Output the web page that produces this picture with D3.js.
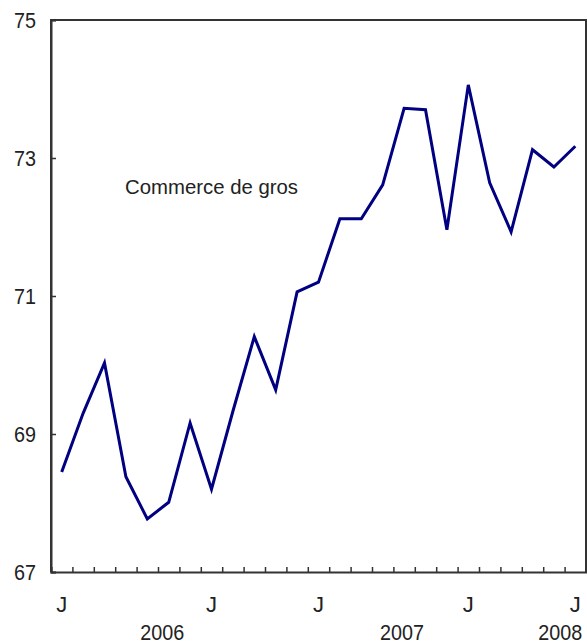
<!DOCTYPE html>
<html>
<head>
<meta charset="utf-8">
<script src="https://cdn.jsdelivr.net/npm/d3@7"></script>
<style>
  body { margin: 0; background: #fff; }
  text { font-family: "Liberation Sans", Arial, sans-serif; fill: #222; }
</style>
</head>
<body>
<svg id="chart" width="587" height="644"></svg>
<script>
// monthly values, Jan 2006 .. Jan 2008
var values = [68.45, 69.30, 70.03, 68.38, 67.77, 68.01, 69.16, 68.20, 69.33, 70.41,
              69.64, 71.06, 71.20, 72.12, 72.12, 72.61, 73.72, 73.70, 71.96, 74.06,
              72.64, 71.93, 73.12, 72.87, 73.17];
var monthLabels = ["J","","","","","","","J","","","","",
                   "J","","","","","","","J","","","","","J"];
var years = ["2006", "2007", "2008"];
var yearAt = [5.2, 16.4, 23.8];   // in month units along the axis
var yTicks = [67, 69, 71, 73, 75];
var seriesName = "Commerce de gros";

var svg = d3.select("#chart");
// plot box (note: "top" is reserved on window, so use own names)
var plotL = 51, plotR = 586, plotT = 20, plotB = 572;

// edges of the month bands
var xEdge = d3.scaleLinear().domain([0, values.length]).range([plotL, plotR]);
var y = d3.scaleLinear().domain([67, 75]).range([plotB, plotT]);

//---------------- frame --------------------
svg.append("path")
  .attr("d", "M" + plotL + "," + plotB + "V" + plotT + "H" + plotR + "V" + plotB)
  .attr("fill", "none").attr("stroke", "#333").attr("stroke-width", 2);

//---------------- y axis --------------------
var gy = svg.append("g").attr("transform", "translate(" + plotL + ",0)")
  .call(d3.axisRight(y).tickValues(yTicks).tickSize(5).tickFormat(""));
gy.select(".domain").attr("stroke", "#333").attr("stroke-width", 2);
gy.selectAll(".tick line").attr("stroke", "#333").attr("stroke-width", 1.5);

svg.selectAll(".ylab").data(yTicks).enter().append("text")
  .attr("class", "ylab")
  .attr("x", 36).attr("y", function(d){ return y(d) + 8; })
  .attr("text-anchor", "end")
  .style("font-size", "22px")
  .attr("textLength", 22).attr("lengthAdjust", "spacingAndGlyphs")
  .text(function(d){ return d; });

//---------------- x axis --------------------
var gx = svg.append("g").attr("transform", "translate(0," + plotB + ")")
  .call(d3.axisTop(xEdge).tickValues(d3.range(0, values.length + 1)).tickSize(5).tickFormat(""));
gx.select(".domain").attr("stroke", "#333").attr("stroke-width", 2);
gx.selectAll(".tick line").attr("stroke", "#333").attr("stroke-width", 1.5);

svg.selectAll(".mlab").data(monthLabels).enter().append("text")
  .attr("class", "mlab")
  .attr("x", function(d, i){ return xEdge(i + 0.5); })
  .attr("y", 612)
  .attr("text-anchor", "middle")
  .style("font-size", "22px")
  .text(function(d){ return d; });

svg.selectAll(".yrlab").data(years).enter().append("text")
  .attr("class", "yrlab")
  .attr("x", function(d, i){ return xEdge(yearAt[i]); })
  .attr("y", 640)
  .attr("text-anchor", "middle")
  .style("font-size", "22px")
  .attr("textLength", 44).attr("lengthAdjust", "spacingAndGlyphs")
  .text(function(d){ return d; });

//---------------- series --------------------
var line = d3.line()
  .x(function(d, i){ return xEdge(i + 0.5); })
  .y(function(d){ return y(d); });

svg.append("path").datum(values)
  .attr("d", line)
  .attr("fill", "none")
  .attr("stroke", "#000080")
  .attr("stroke-width", 3)
  .attr("stroke-linejoin", "miter");

svg.append("text")
  .attr("x", 125).attr("y", 194)
  .style("font-size", "19.5px")
  .attr("textLength", 173).attr("lengthAdjust", "spacingAndGlyphs")
  .text(seriesName);
</script>
</body>
</html>
